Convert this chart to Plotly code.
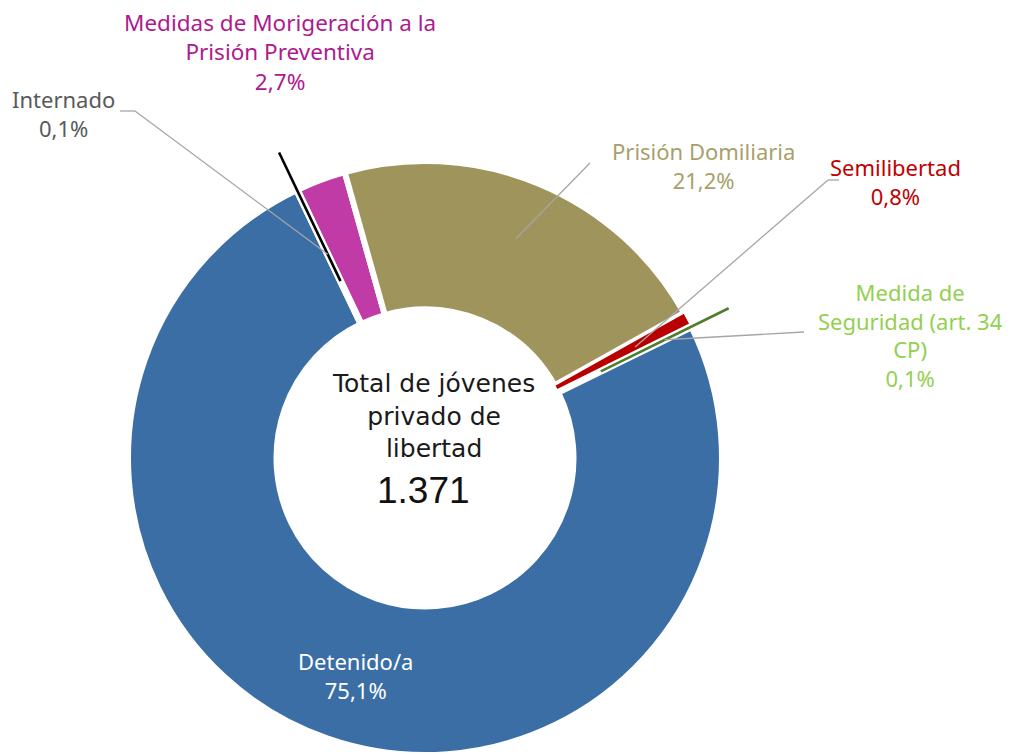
import math
import plotly.graph_objects as go

# ---- data ----
categories = ["Medidas de Morigeración a la Prisión Preventiva", "Prisión Domiliaria",
              "Semilibertad", "Medida de Seguridad (art. 34 CP)", "Detenido/a", "Internado"]
counts = [37, 291, 11, 1, 1030, 1]
pct_labels = ["2,7%", "21,2%", "0,8%", "0,1%", "75,1%", "0,1%"]
total_label = "1.371"

slice_colors = ["#C03BA6", "#9F945C", "#B80000", "#4E7D2B", "#3A6EA5", "#000000"]
label_colors = ["#AE1A8E", "#A89F6B", "#C00000", "#92D050", "#FFFFFF", "#595959"]

W, H = 1010, 753
OFF = 8  # default page body margin in the browser (px)

dom_x = [0.0, 834 / W]
dom_y = [6 / H, 600 / H]
rotation = -25.4

FONT = "Noto Sans"

tot = sum(counts)
border_w = [1.5 if 0.005 < v / tot < 0.02 else 6 for v in counts]

fig = go.Figure()
fig.add_trace(go.Pie(
    values=counts, labels=categories, sort=False, direction="clockwise",
    rotation=rotation, hole=0.5, textinfo="none", hoverinfo="label+percent",
    marker=dict(colors=slice_colors, line=dict(color="white", width=border_w)),
    domain=dict(x=dom_x, y=dom_y), showlegend=False,
))

# pie geometry (screen pixels) derived from the domain, as plotly computes it
box_w = W * (dom_x[1] - dom_x[0])
box_h = H * (dom_y[1] - dom_y[0])
R = min(box_w, box_h) / 2
CX = W * (dom_x[0] + dom_x[1]) / 2 + OFF
CY = H * (1 - (dom_y[0] + dom_y[1]) / 2) + OFF

mids = []
cum = 0
for v in counts:
    mids.append(rotation + 360 * (cum + v / 2) / tot)
    cum += v


def pt(i, rf):
    a = math.radians(mids[i])
    return CX + rf * R * math.sin(a), CY - rf * R * math.cos(a)


def px(x):
    return (x - OFF) / W


def py(y):
    return 1 - (y - OFF) / H


shapes = []


def seg(p0, p1, color="#A6A6A6", width=1.3):
    shapes.append(dict(type="line", xref="paper", yref="paper",
                       x0=px(p0[0]), y0=py(p0[1]), x1=px(p1[0]), y1=py(p1[1]),
                       line=dict(color=color, width=width), layer="above"))


# tiny slices shown pulled out as thin lines
for i in range(len(counts)):
    if counts[i] / tot < 0.005:
        seg(pt(i, 0.66), pt(i, 1.14), color=slice_colors[i], width=2.6)

# leader lines
seg((120, 111), (135, 111))
seg((135, 111), pt(5, 0.76))
seg((590, 163), pt(1, 0.8))
seg((839, 180), (828, 180))
seg((828, 180), pt(2, 0.8))
seg((804, 332), pt(3, 0.9))

ann = []


def label(x, y, text, color, size=22, family=FONT, weight=None):
    f = dict(family=family, size=size, color=color)
    if weight:
        f["weight"] = weight
    ann.append(dict(x=px(x), y=py(y), xref="paper", yref="paper", text=text,
                    showarrow=False, xanchor="center", yanchor="middle", font=f))


label(280, 52, "Medidas de Morigeración a la<br>Prisión Preventiva<br>" + pct_labels[0], label_colors[0], size=22.5)
label(63, 114, "Internado<br>" + pct_labels[5], label_colors[5])
label(703, 165, "Prisión Domiliaria<br>" + pct_labels[1], label_colors[1])
label(895, 181, "Semilibertad<br>" + pct_labels[2], label_colors[2])
label(910, 335, "Medida de<br>Seguridad (art. 34<br>CP)<br>" + pct_labels[3], label_colors[3])
label(355, 675, "Detenido/a<br>" + pct_labels[4], label_colors[4])

label(433, 416, "Total de jóvenes<br>privado de<br>libertad", "#1A1A1A", size=25,
      family="DejaVu Sans")
label(423, 490, total_label, "#111111", size=37, family="Liberation Sans, Arial")

fig.update_layout(
    width=W, height=H, margin=dict(l=0, r=0, t=0, b=0),
    paper_bgcolor="white", plot_bgcolor="white",
    shapes=shapes, annotations=ann, showlegend=False,
)

fig.write_html("out.html")
